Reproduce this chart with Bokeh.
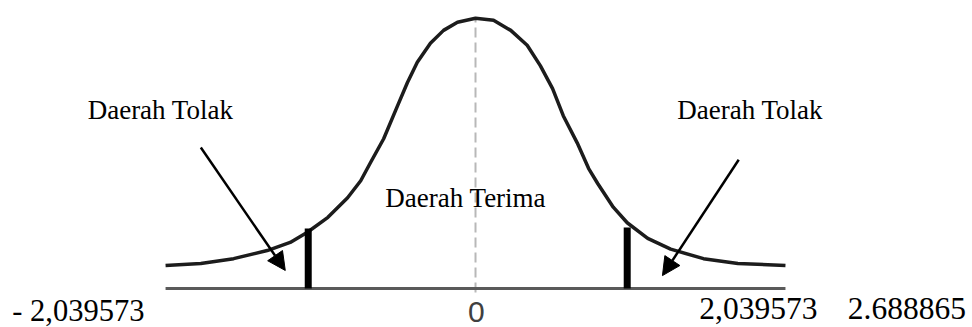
from bokeh.plotting import figure
from bokeh.models import Range1d, Arrow, NormalHead
from bokeh.core.properties import value
from bokeh.embed import file_html
from bokeh.resources import INLINE

# ---- data (drawing units: x in t-units, y in density) ----
curve_x = [-3.78, -3.35, -2.95, -2.54, -2.26, -2.05, -1.80, -1.56, -1.40, -1.28,
           -1.12, -0.95, -0.83, -0.71, -0.55, -0.39, -0.22, 0.00, 0.22, 0.43,
           0.63, 0.79, 0.94, 1.07, 1.24, 1.38, 1.49, 1.68, 1.85, 2.10,
           2.38, 2.78, 3.20, 3.78]
curve_y = [0.034, 0.037, 0.044, 0.056, 0.068, 0.083, 0.105, 0.134, 0.159, 0.186,
           0.221, 0.270, 0.304, 0.334, 0.362, 0.381, 0.393, 0.399, 0.396, 0.381,
           0.359, 0.329, 0.295, 0.255, 0.215, 0.177, 0.155, 0.120, 0.097, 0.074,
           0.058, 0.044, 0.037, 0.034]

crit_x = [-2.04, 1.85]          # thick bars (critical values as drawn)
crit_top = [0.0886, 0.0900]
axis_span = [-3.78, 3.78]
peak = 0.399

region_labels = ["Daerah Tolak", "Daerah Terima", "Daerah Tolak"]
region_x = [-4.73, -1.10, 2.46]
region_y = [0.264, 0.133, 0.264]

value_labels = ["- 2,039573", "2,039573", "2.688865"]
value_x = [-5.65, 2.73, 4.54]
value_y = [-0.0330, -0.0295, -0.0295]

arrow_start_x = [-3.35, 3.21]
arrow_start_y = [0.208, 0.190]
arrow_end_x = [-2.32, 2.28]
arrow_end_y = [0.0266, 0.019]

p = figure(width=972, height=327, output_backend="svg", toolbar_location=None,
           x_range=Range1d(-5.793, 6.061), y_range=Range1d(-0.0576, 0.4251),
           min_border=0, outline_line_color=None)
p.axis.visible = False
p.grid.visible = False
p.background_fill_color = "white"
p.border_fill_color = "white"

# dashed centre line
p.segment(x0=[0], y0=[-0.006], x1=[0], y1=[peak], line_color="#b8b8b8",
          line_width=2, line_dash="10 5")
# base line
p.segment(x0=[axis_span[0]], y0=[0], x1=[axis_span[1]], y1=[0],
          line_color="#5a5a5a", line_width=3)
# curve
p.line(curve_x, curve_y, line_color="#1c1c1c", line_width=3.5, line_join="round")
# critical bars
p.segment(x0=crit_x, y0=[0, 0], x1=crit_x, y1=crit_top, line_color="black",
          line_width=7, line_cap="butt")

# arrows
for sx, sy, ex, ey in zip(arrow_start_x, arrow_start_y, arrow_end_x, arrow_end_y):
    p.add_layout(Arrow(end=NormalHead(size=18, fill_color="black", line_color="black"),
                       x_start=sx, y_start=sy, x_end=ex, y_end=ey,
                       line_color="black", line_width=2.5))

# region labels
p.text(x=region_x, y=region_y, text=region_labels, text_font=value("Liberation Serif"),
       text_font_size="27px", text_color="black", text_baseline="alphabetic",
       text_align="left")
# value labels
p.text(x=value_x[:1], y=value_y[:1], text=value_labels[:1],
       text_font=value("Liberation Serif"), text_font_size="30.5px",
       text_color="black", text_baseline="alphabetic", text_align="left")
p.text(x=value_x[1:], y=value_y[1:], text=value_labels[1:],
       text_font=value("Liberation Serif"), text_font_size="31.5px",
       text_color="black", text_baseline="alphabetic", text_align="left")
# zero label
p.text(x=[0.01], y=[-0.0354], text=["0"], text_font=value("Liberation Sans"),
       text_font_size="30px", text_color="#404040", text_baseline="alphabetic",
       text_align="center")

open("out.html", "w").write(file_html(p, INLINE))
